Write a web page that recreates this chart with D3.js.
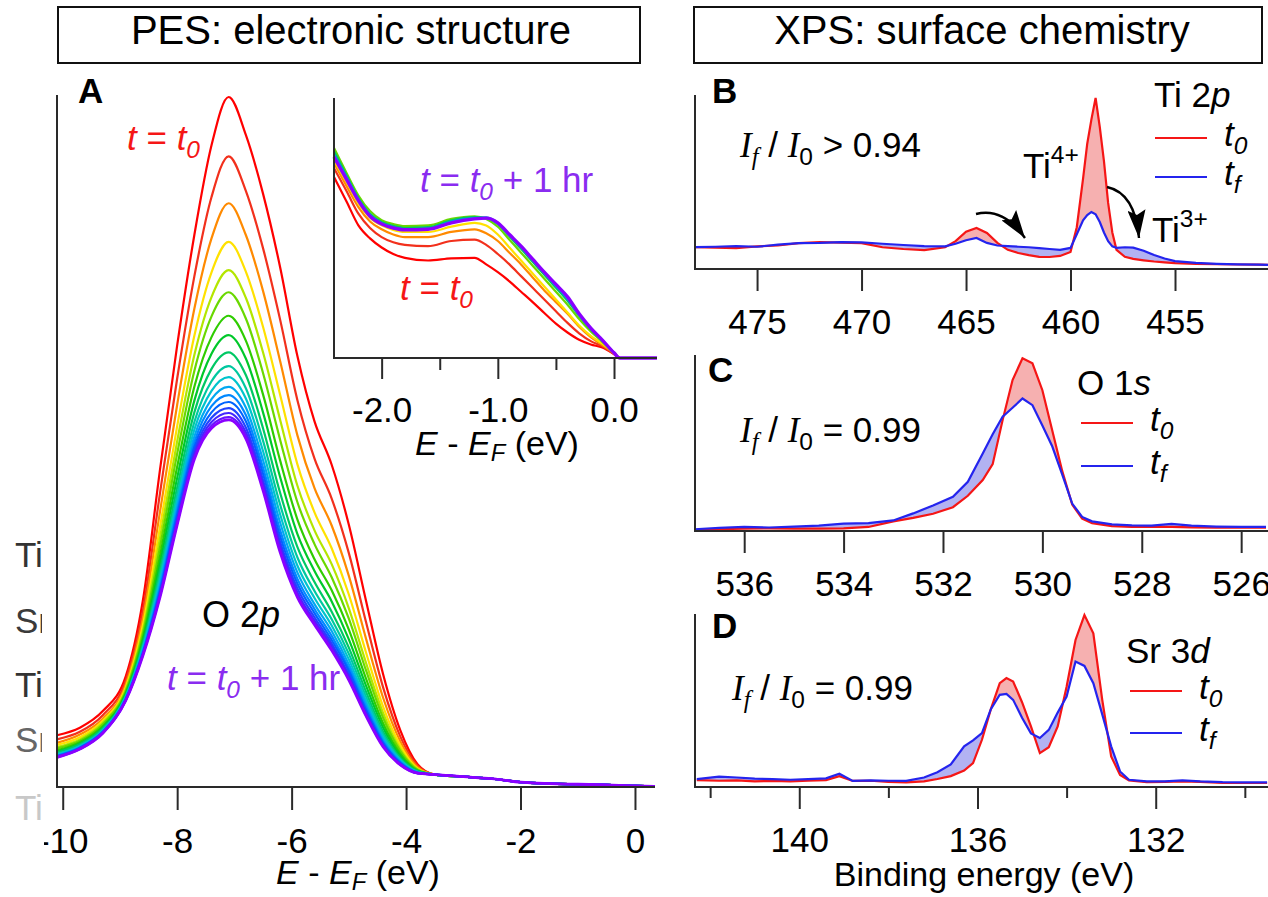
<!DOCTYPE html>
<html>
<head>
<meta charset="utf-8">
<script src="https://cdn.jsdelivr.net/npm/d3@7"></script>
<style>
  body { margin: 0; background: #fff; }
  svg text { white-space: pre; }
</style>
</head>
<body>
<div id="chart"></div>
<script>
// ---- PES valence band, O 2p region (A) ----
const pesEnergy = [-10.1, -9.7, -9.3, -8.9, -8.6, -8.3, -8.0, -7.7, -7.4, -7.1, -6.8,
  -6.5, -6.2, -5.9, -5.6, -5.3, -5.0, -4.7, -4.4, -4.1, -3.8];
const pesTailEnergy = [-3.5, -3.0, -2.5, -2.0, -1.5, -1.0, -0.5, 0.0, 0.35];
const pesTail = [1.8, 1.5, 1.2, 0.7, 0.5, 0.4, 0.3, 0.15, 0.1];
// one row per scan, t0 first, t0 + 1 hr last
const pesScans = [
  [7.5, 8.6, 11.0, 16.0, 27.0, 46.0, 64.0, 80.0, 93.0, 100.0, 94.5, 86.0, 75.3, 62.5, 53.0, 46.7, 38.0, 27.0, 16.3, 8.2, 3.3],
  [6.9, 8.0, 10.4, 15.4, 25.5, 42.6, 59.2, 74.0, 85.5, 91.4, 86.4, 78.1, 67.7, 56.1, 47.6, 41.8, 33.9, 23.9, 14.4, 7.3, 3.1],
  [6.4, 7.6, 9.9, 14.8, 24.4, 39.9, 55.4, 69.3, 79.5, 84.6, 80.0, 71.9, 61.7, 51.0, 43.3, 37.9, 30.6, 21.5, 12.9, 6.6, 2.9],
  [6.1, 7.2, 9.6, 14.4, 23.4, 37.7, 52.3, 65.4, 74.6, 79.0, 74.7, 66.7, 56.8, 46.8, 39.8, 34.6, 27.9, 19.5, 11.6, 6.0, 2.7],
  [5.8, 6.9, 9.3, 14.1, 22.7, 36.1, 50.1, 62.6, 71.0, 74.9, 70.9, 63.0, 53.2, 43.7, 37.2, 32.3, 25.9, 18.0, 10.7, 5.5, 2.6],
  [5.6, 6.7, 9.1, 13.9, 22.2, 34.8, 48.3, 60.3, 68.2, 71.7, 67.9, 60.0, 50.3, 41.3, 35.2, 30.4, 24.4, 16.9, 10.0, 5.2, 2.5],
  [5.3, 6.5, 8.8, 13.6, 21.6, 33.5, 46.4, 58.0, 65.2, 68.3, 64.7, 56.9, 47.3, 38.8, 33.0, 28.5, 22.8, 15.7, 9.2, 4.8, 2.4],
  [5.1, 6.3, 8.6, 13.4, 21.1, 32.4, 44.8, 56.0, 62.8, 65.5, 62.1, 54.3, 44.9, 36.7, 31.3, 26.9, 21.4, 14.7, 8.6, 4.5, 2.3],
  [5.0, 6.2, 8.5, 13.2, 20.7, 31.4, 43.4, 54.3, 60.6, 63.0, 59.7, 52.0, 42.6, 34.8, 29.7, 25.4, 20.2, 13.8, 8.0, 4.2, 2.3],
  [4.8, 6.0, 8.3, 13.1, 20.3, 30.6, 42.3, 52.9, 58.8, 61.0, 57.8, 50.2, 40.9, 33.3, 28.4, 24.3, 19.3, 13.1, 7.6, 4.0, 2.2],
  [4.7, 5.9, 8.2, 13.0, 20.1, 29.9, 41.4, 51.8, 57.4, 59.4, 56.3, 48.7, 39.5, 32.1, 27.4, 23.4, 18.5, 12.5, 7.2, 3.9, 2.2],
  [4.6, 5.8, 8.1, 12.9, 19.8, 29.4, 40.7, 50.8, 56.2, 58.0, 55.0, 47.4, 38.3, 31.1, 26.5, 22.6, 17.8, 12.0, 6.9, 3.7, 2.1],
  [4.5, 5.7, 8.0, 12.8, 19.6, 28.9, 40.0, 50.0, 55.2, 56.8, 53.9, 46.3, 37.2, 30.2, 25.8, 21.9, 17.2, 11.6, 6.6, 3.6, 2.1],
  [4.5, 5.7, 8.0, 12.7, 19.4, 28.5, 39.5, 49.3, 54.3, 55.8, 53.0, 45.4, 36.3, 29.5, 25.2, 21.3, 16.8, 11.2, 6.4, 3.5, 2.1],
  [4.4, 5.6, 7.9, 12.6, 19.3, 28.2, 38.9, 48.7, 53.5, 54.9, 52.1, 44.5, 35.5, 28.8, 24.6, 20.8, 16.3, 10.9, 6.2, 3.4, 2.0],
  [4.4, 5.6, 7.9, 12.6, 19.2, 27.9, 38.5, 48.2, 52.9, 54.2, 51.4, 43.9, 34.9, 28.2, 24.1, 20.4, 16.0, 10.6, 6.0, 3.3, 2.0],
  [4.3, 5.5, 7.8, 12.5, 19.1, 27.7, 38.2, 47.8, 52.4, 53.6, 50.9, 43.4, 34.4, 27.8, 23.8, 20.0, 15.7, 10.4, 5.9, 3.2, 2.0],
  [4.3, 5.5, 7.8, 12.5, 19.0, 27.5, 38.0, 47.5, 52.0, 53.2, 50.5, 43.0, 34.0, 27.5, 23.5, 19.8, 15.5, 10.3, 5.8, 3.2, 2.0]
];

// ---- inset: near Fermi level ----
const insetEnergy = [-2.41, -2.3, -2.2, -2.1, -2.0, -1.9, -1.8, -1.6, -1.4, -1.2, -1.1, -1.0,
  -0.9, -0.8, -0.7, -0.6, -0.5, -0.4, -0.3, -0.2, -0.1, 0.0, 0.05, 0.37];
const insetScanIndex = [0, 1, 2, 3, 5, 8, 12, 17];
const insetScans = [
  [69.6, 60.0, 51.0, 46.0, 42.5, 40.0, 38.5, 37.5, 38.3, 38.5, 36.0, 33.0, 29.5, 25.5, 21.5, 17.3, 13.2, 9.8, 7.0, 5.2, 4.0, 1.5, 0, 0],
  [73.0, 64.0, 55.5, 50.0, 46.5, 44.5, 43.5, 43.0, 45.0, 45.5, 43.5, 40.0, 36.0, 31.5, 27.0, 22.5, 18.0, 13.5, 9.5, 6.5, 4.5, 1.5, 0, 0],
  [75.0, 66.0, 58.0, 52.5, 49.5, 47.5, 46.5, 46.5, 48.5, 49.5, 48.0, 45.0, 40.5, 36.0, 31.0, 26.0, 21.5, 17.0, 12.0, 8.0, 5.0, 1.8, 0, 0],
  [76.0, 67.5, 59.5, 54.0, 51.0, 49.3, 48.5, 48.5, 50.5, 52.0, 51.0, 47.5, 42.5, 37.5, 32.5, 27.5, 22.5, 17.5, 12.5, 8.5, 5.5, 2.0, 0, 0],
  [80.8, 71.0, 62.5, 56.5, 53.0, 51.5, 50.7, 51.0, 53.5, 54.5, 53.5, 50.5, 45.5, 40.5, 35.5, 30.5, 25.5, 20.5, 15.0, 10.2, 6.2, 2.0, 0, 0],
  [79.5, 70.0, 61.5, 55.5, 52.3, 50.8, 50.0, 50.3, 53.0, 54.2, 54.0, 51.5, 46.8, 42.0, 37.0, 32.0, 27.0, 22.0, 16.2, 11.0, 6.6, 2.0, 0, 0],
  [78.3, 69.3, 61.0, 55.0, 51.8, 50.3, 49.6, 49.8, 52.5, 53.8, 54.0, 52.0, 47.3, 42.7, 37.7, 32.7, 27.8, 22.8, 16.6, 11.3, 6.8, 2.0, 0, 0],
  [77.3, 68.5, 60.5, 54.5, 51.5, 50.0, 49.3, 49.5, 52.0, 53.5, 53.8, 52.0, 47.5, 43.0, 38.0, 33.0, 28.3, 23.5, 17.0, 11.5, 6.9, 2.0, 0, 0]
];

// ---- XPS Ti 2p (B) ----
const tiBE = [478, 477, 476, 475, 474, 473, 472, 471, 470, 469, 468, 467, 466, 465.5, 465, 464.5,
  464, 463.5, 463, 462.5, 462, 461.5, 461, 460.5, 460, 459.7, 459.4, 459.2, 459.0, 458.8, 458.6,
  458.4, 458.2, 458.0, 457.8, 457.4, 457.0, 456.5, 456, 455.5, 455, 454, 453, 452, 451, 450.5];
const tiT0 = [12.6, 12.3, 12.0, 13.0, 13.5, 14.9, 15.5, 15.2, 14.9, 12.5, 11.5, 10.9, 12.5, 16.0, 21.5, 23.6,
  20.7, 15.0, 11.0, 9.2, 8.0, 7.0, 6.9, 7.5, 9.8, 24.0, 52.0, 72.0, 86.0, 98.3, 81.6,
  62.0, 38.0, 21.0, 11.0, 7.0, 5.8, 5.0, 4.3, 3.8, 3.4, 3.0, 2.8, 2.6, 2.5, 2.4];
const tiTf = [12.6, 12.8, 13.2, 12.8, 14.0, 14.9, 15.0, 15.5, 15.3, 14.5, 13.8, 13.2, 13.0, 14.5, 16.5, 17.8,
  15.0, 13.5, 13.2, 12.8, 12.5, 12.0, 11.5, 11.0, 12.1, 20.0, 28.0, 31.0, 32.8, 31.5, 27.0,
  21.0, 16.0, 13.0, 12.2, 12.5, 12.3, 10.5, 8.0, 6.0, 4.5, 3.5, 3.0, 2.7, 2.5, 2.4];

// ---- XPS O 1s (C) ----
const oBE = [537, 536.5, 536, 535.5, 535, 534.5, 534, 533.5, 533, 532.6, 532.2, 531.8, 531.5, 531.2, 531.0,
  530.8, 530.6, 530.4, 530.2, 530.0, 529.8, 529.6, 529.4, 529.2, 529.0, 528.6, 528.2, 527.8, 527.4,
  527.0, 526.5, 526.0, 525.5];
const oT0 = [0.5, 1.0, 1.3, 1.5, 1.4, 1.3, 1.5, 2.3, 5.5, 7.5, 9.8, 13.5, 20.0, 29.0, 38.0,
  63.0, 85.8, 98.1, 95.3, 80.0, 57.0, 34.0, 15.0, 7.0, 4.5, 2.8, 2.3, 2.3, 2.4,
  2.1, 1.9, 1.9, 1.9];
const oTf = [1.0, 1.8, 2.3, 2.0, 2.5, 3.0, 4.2, 4.5, 6.0, 10.0, 14.5, 19.4, 28.0, 44.0, 55.0,
  64.9, 70.0, 75.3, 71.5, 60.0, 48.0, 32.0, 15.6, 8.0, 5.5, 3.8, 3.2, 3.0, 4.0,
  3.0, 2.5, 2.3, 2.3];

// ---- XPS Sr 3d (D) ----
const srBE = [142.3, 141.8, 141.4, 141.0, 140.6, 140.2, 139.8, 139.4, 139.1, 138.8, 138.4, 138.0, 137.6,
  137.2, 136.9, 136.6, 136.3, 136.1, 135.9, 135.7, 135.5, 135.35, 135.2, 135.0, 134.8, 134.6, 134.4,
  134.2, 134.0, 133.8, 133.6, 133.4, 133.2, 133.0, 132.8, 132.6, 132.2, 131.8, 131.4, 131.0, 130.5,
  130.0, 129.5];
const srT0 = [4.0, 3.6, 3.8, 3.3, 3.5, 3.3, 3.6, 4.0, 6.2, 3.5, 3.6, 3.0, 2.7,
  3.3, 4.6, 6.3, 9.5, 13.8, 27.3, 45.0, 60.0, 63.0, 61.0, 49.0, 35.0, 19.6, 23.0,
  35.0, 58.0, 85.0, 99.4, 88.8, 50.4, 17.7, 7.0, 3.8, 2.8, 3.0, 3.3, 3.0, 2.3,
  2.3, 2.3];
const srTf = [4.6, 6.0, 5.5, 4.8, 4.5, 4.2, 4.6, 5.0, 7.7, 3.5, 3.8, 3.6, 3.5,
  5.5, 8.5, 13.0, 23.5, 27.0, 31.2, 45.0, 53.3, 53.8, 50.4, 40.0, 31.0, 28.3, 33.0,
  43.0, 52.3, 72.5, 70.0, 60.0, 42.0, 23.5, 9.0, 4.2, 3.2, 3.3, 3.8, 3.2, 2.8,
  2.7, 2.7];

// tick values
const ticksA = [-10, -8, -6, -4, -2, 0];
const ticksInset = [-2, -1, 0];
const ticksInsetMinor = [-1.5, -0.5];
const ticksB = [475, 470, 465, 460, 455];
const ticksC = [536, 534, 532, 530, 528, 526];
const ticksD = [140, 136, 132];
const ticksDMinor = [142, 138, 134, 130];

// styles
const pesColors = ['#ff0000', '#f2301c', '#ff8a00', '#ffe100', '#b4e600', '#6ad800', '#2fcc00', '#00c82a',
  '#00c864', '#00c8a0', '#00c4cc', '#00a8f0', '#0088ff', '#0064ff', '#2244ff', '#4426ff', '#6814ff', '#8a00ff'];
const red = '#f51616';
const blue = '#2424ee';
const redFill = '#f6b0b0';
const blueFill = '#b2b2f2';
const purple = '#8a2cf0';
const axisColor = '#2a2a2a';

const width = 1268;
const height = 897;

const svg = d3.select('#chart')
  .append('svg')
  .attr('width', width)
  .attr('height', height)
  .style('font-family', '"Liberation Sans", Arial, sans-serif');

const defs = svg.append('defs');

function richText(x, y, parts, size, color = '#000', anchor = 'start', subShift = 0.24) {
  const t = svg.append('text')
    .attr('x', x)
    .attr('y', y)
    .attr('font-size', size)
    .attr('fill', color)
    .attr('text-anchor', anchor);
  let shift = 0;
  parts.forEach(p => {
    const [str, fmt = ''] = Array.isArray(p) ? p : [p];
    const flags = fmt.split(' ');
    let target = 0;
    let fs = size;
    if (flags.includes('sub')) { target = size * subShift; fs = size * 0.7; }
    if (flags.includes('sup')) { target = -size * 0.42; fs = size * 0.7; }
    const s = t.append('tspan')
      .attr('dy', target - shift)
      .attr('font-size', fs)
      .text(str);
    if (flags.includes('i')) s.attr('font-style', 'italic');
    if (flags.includes('serif')) s.attr('font-family', '"Liberation Serif", serif');
    shift = target;
  });
  return t;
}

function frame(x, y) {
  const [x0, x1] = x.range();
  const [y0, y1] = y.range();
  svg.append('line')
    .attr('x1', x0).attr('x2', x0).attr('y1', y1).attr('y2', y0)
    .attr('stroke', axisColor).attr('stroke-width', 2);
  svg.append('line')
    .attr('x1', x0 - 1).attr('x2', x1).attr('y1', y0).attr('y2', y0)
    .attr('stroke', axisColor).attr('stroke-width', 2);
}

function bottomAxis(x, yPos, ticks, fmt, size = 22, labels = true) {
  const g = svg.append('g')
    .attr('transform', `translate(0, ${yPos})`)
    .attr('color', axisColor)
    .call(d3.axisBottom(x)
      .tickValues(ticks)
      .tickFormat(labels ? fmt : () => '')
      .tickSize(size)
      .tickPadding(18)
      .tickSizeOuter(0));
  g.select('.domain').remove();
  g.selectAll('line').attr('stroke-width', 2);
  g.selectAll('text')
    .attr('font-size', 35)
    .attr('font-family', '"Liberation Sans", Arial, sans-serif')
    .attr('fill', '#000');
  return g;
}

// ---- title boxes ----
svg.append('rect')
  .attr('x', 58).attr('y', 7).attr('width', 582).attr('height', 56)
  .attr('fill', 'none').attr('stroke', '#111').attr('stroke-width', 2);
svg.append('text')
  .attr('x', 351).attr('y', 44).attr('text-anchor', 'middle')
  .attr('font-size', 40).text('PES: electronic structure');
svg.append('rect')
  .attr('x', 694).attr('y', 7).attr('width', 568).attr('height', 56)
  .attr('fill', 'none').attr('stroke', '#111').attr('stroke-width', 2);
svg.append('text')
  .attr('x', 982).attr('y', 44).attr('text-anchor', 'middle')
  .attr('font-size', 40).text('XPS: surface chemistry');

// ---- panel A ----
const xA = d3.scaleLinear().domain([-10.1, 0.35]).range([57, 655]);
const yA = d3.scaleLinear().domain([0, 100]).range([787, 95]);
const yAData = d3.scaleLinear().domain([0, 100]).range([787, 97]);

const lineA = d3.line()
  .x(d => xA(d[0]))
  .y(d => yAData(d[1]))
  .curve(d3.curveMonotoneX);

pesScans.forEach((row, i) => {
  const pts = pesEnergy.map((e, j) => [e, row[j]])
    .concat(pesTailEnergy.map((e, j) => [e, pesTail[j]]));
  svg.append('path')
    .attr('d', lineA(pts))
    .attr('fill', 'none')
    .attr('stroke', pesColors[i])
    .attr('stroke-width', i === pesScans.length - 1 ? 2.8 : 2.2);
});

frame(xA, yA);
bottomAxis(xA, 787, ticksA, d => String(d), 23);

svg.append('text')
  .attr('x', 78).attr('y', 103)
  .attr('font-size', 35).attr('font-weight', 'bold')
  .text('A');

richText(127, 150, [['t', 'i'], ' = ', ['t', 'i'], ['0', 'i sub']], 35, red);
richText(202, 627, ['O 2', ['p', 'i']], 36);
richText(167, 690, [['t', 'i'], ' = ', ['t', 'i'], ['0', 'i sub'], ' + 1 hr'], 35, purple);
richText(358, 884, [['E', 'i'], ' - ', ['E', 'i'], ['F', 'i sub'], ' (eV)'], 34, '#000', 'middle', 0.18);

// ---- inset ----
const xI = d3.scaleLinear().domain([-2.41, 0.37]).range([334, 657]);
const yI = d3.scaleLinear().domain([0, 100]).range([358, 98]);

const lineI = d3.line()
  .x(d => xI(d[0]))
  .y(d => yI(d[1]))
  .curve(d3.curveMonotoneX);

insetScans.forEach((row, i) => {
  const pts = insetEnergy.map((e, j) => [e, row[j]]);
  svg.append('path')
    .attr('d', lineI(pts))
    .attr('fill', 'none')
    .attr('stroke', pesColors[insetScanIndex[i]])
    .attr('stroke-width', i === insetScans.length - 1 ? 3.4 : 2.2);
});

frame(xI, yI);
bottomAxis(xI, 358, ticksInset, d => d.toFixed(1), 21);
bottomAxis(xI, 358, ticksInsetMinor, null, 12, false);

richText(420, 192, [['t', 'i'], ' = ', ['t', 'i'], ['0', 'i sub'], ' + 1 hr'], 35, purple);
richText(400, 300, [['t', 'i'], ' = ', ['t', 'i'], ['0', 'i sub']], 35, red);
richText(497, 455, [['E', 'i'], ' - ', ['E', 'i'], ['F', 'i sub'], ' (eV)'], 34, '#000', 'middle', 0.18);

// ---- XPS panels ----
function diffPanel(id, be, t0, tf, x, y) {
  const pts = be.map((e, i) => ({ e, a: t0[i], b: tf[i] }));
  const base = y.range()[0];
  const lx = d => x(d.e);

  defs.append('clipPath').attr('id', `${id}-above-tf`)
    .append('path')
    .attr('d', d3.area().x(lx).y0(0).y1(d => y(d.b))(pts));
  defs.append('clipPath').attr('id', `${id}-above-t0`)
    .append('path')
    .attr('d', d3.area().x(lx).y0(0).y1(d => y(d.a))(pts));

  svg.append('path')
    .attr('clip-path', `url(#${id}-above-tf)`)
    .attr('fill', redFill)
    .attr('d', d3.area().x(lx).y0(d => y(d.a)).y1(base)(pts));
  svg.append('path')
    .attr('clip-path', `url(#${id}-above-t0)`)
    .attr('fill', blueFill)
    .attr('d', d3.area().x(lx).y0(d => y(d.b)).y1(base)(pts));

  svg.append('path')
    .attr('d', d3.line().x(lx).y(d => y(d.a))(pts))
    .attr('fill', 'none').attr('stroke', red).attr('stroke-width', 2.2);
  svg.append('path')
    .attr('d', d3.line().x(lx).y(d => y(d.b))(pts))
    .attr('fill', 'none').attr('stroke', blue).attr('stroke-width', 2.2);
}

function legend(x, yRed, yBlue) {
  svg.append('line').attr('x1', x).attr('x2', x + 52).attr('y1', yRed).attr('y2', yRed)
    .attr('stroke', red).attr('stroke-width', 2.2);
  svg.append('line').attr('x1', x).attr('x2', x + 52).attr('y1', yBlue).attr('y2', yBlue)
    .attr('stroke', blue).attr('stroke-width', 2.2);
  richText(x + 69, yRed + 8, [['t', 'i'], ['0', 'i sub']], 35);
  richText(x + 69, yBlue + 8, [['t', 'i'], ['f', 'i sub']], 35);
}

function ratio(x, y, rel) {
  richText(x, y, [['I', 'i serif'], ['f', 'i serif sub'], ' / ', ['I', 'i serif'], ['0', 'sub'], rel], 35);
}

// B: Ti 2p
const xB = d3.scaleLinear().domain([477.97, 450.55]).range([695, 1268]);
const yB = d3.scaleLinear().domain([0, 100]).range([269, 95]);
diffPanel('ti', tiBE, tiT0, tiTf, xB, yB);
frame(xB, yB);
bottomAxis(xB, 269, ticksB, d => String(d));
svg.append('text').attr('x', 712).attr('y', 103)
  .attr('font-size', 35).attr('font-weight', 'bold').text('B');
richText(1154, 107, ['Ti 2', ['p', 'i']], 35);
legend(1155, 138, 177);
ratio(740, 157, ' > 0.94');
richText(1023, 178, ['Ti', ['4+', 'sup']], 35);
richText(1152, 242, ['Ti', ['3+', 'sup']], 35);

defs.append('marker')
  .attr('id', 'head')
  .attr('markerUnits', 'userSpaceOnUse')
  .attr('markerWidth', 30).attr('markerHeight', 18)
  .attr('refX', 28).attr('refY', 9)
  .attr('orient', 'auto')
  .append('path')
  .attr('d', 'M0,0 L28,9 L0,18 L5,9 Z')
  .attr('fill', '#000');

svg.append('path')
  .attr('d', 'M976,214 Q1003,207 1025,238')
  .attr('fill', 'none').attr('stroke', '#000').attr('stroke-width', 2.4)
  .attr('marker-end', 'url(#head)');
svg.append('path')
  .attr('d', 'M1107,187 Q1135,193 1139,238')
  .attr('fill', 'none').attr('stroke', '#000').attr('stroke-width', 2.4)
  .attr('marker-end', 'url(#head)');

// C: O 1s
const xC = d3.scaleLinear().domain([536.99, 525.46]).range([695, 1268]);
const yC = d3.scaleLinear().domain([0, 100]).range([531, 355]);
diffPanel('o', oBE, oT0, oTf, xC, yC);
frame(xC, yC);
bottomAxis(xC, 531, ticksC, d => String(d));
svg.append('text').attr('x', 708).attr('y', 382)
  .attr('font-size', 35).attr('font-weight', 'bold').text('C');
richText(1077, 395, ['O 1', ['s', 'i']], 35);
legend(1081, 423, 466);
ratio(740, 442, ' = 0.99');

// D: Sr 3d
const xD = d3.scaleLinear().domain([142.34, 129.48]).range([695, 1268]);
const yD = d3.scaleLinear().domain([0, 100]).range([787, 614]);
diffPanel('sr', srBE, srT0, srTf, xD, yD);
frame(xD, yD);
bottomAxis(xD, 787, ticksD, d => String(d));
bottomAxis(xD, 787, ticksDMinor, null, 11, false);
svg.append('text').attr('x', 712).attr('y', 638)
  .attr('font-size', 35).attr('font-weight', 'bold').text('D');
richText(1126, 663, ['Sr 3', ['d', 'i']], 35);
legend(1130, 691, 733);
ratio(732, 700, ' = 0.99');
svg.append('text')
  .attr('x', 984).attr('y', 886).attr('text-anchor', 'middle')
  .attr('font-size', 34).text('Binding energy (eV)');

// ---- clipped labels at the left edge ----
defs.append('clipPath').attr('id', 'edge')
  .append('rect').attr('x', 0).attr('y', 500).attr('width', 42).attr('height', 397);
svg.append('rect')
  .attr('x', 0).attr('y', 520).attr('width', 44).attr('height', 377)
  .attr('fill', '#fff');
const edge = svg.append('g').attr('clip-path', 'url(#edge)');
[['Ti', 567, '#333'], ['Sr', 633, '#3a3a3a'], ['Ti', 697, '#333'], ['Sr', 752, '#666'], ['Ti', 820, '#c8c8c8']]
  .forEach(([s, y, c]) => {
    edge.append('text')
      .attr('x', 15).attr('y', y)
      .attr('font-size', 35).attr('fill', c)
      .text(s);
  });
</script>
</body>
</html>
